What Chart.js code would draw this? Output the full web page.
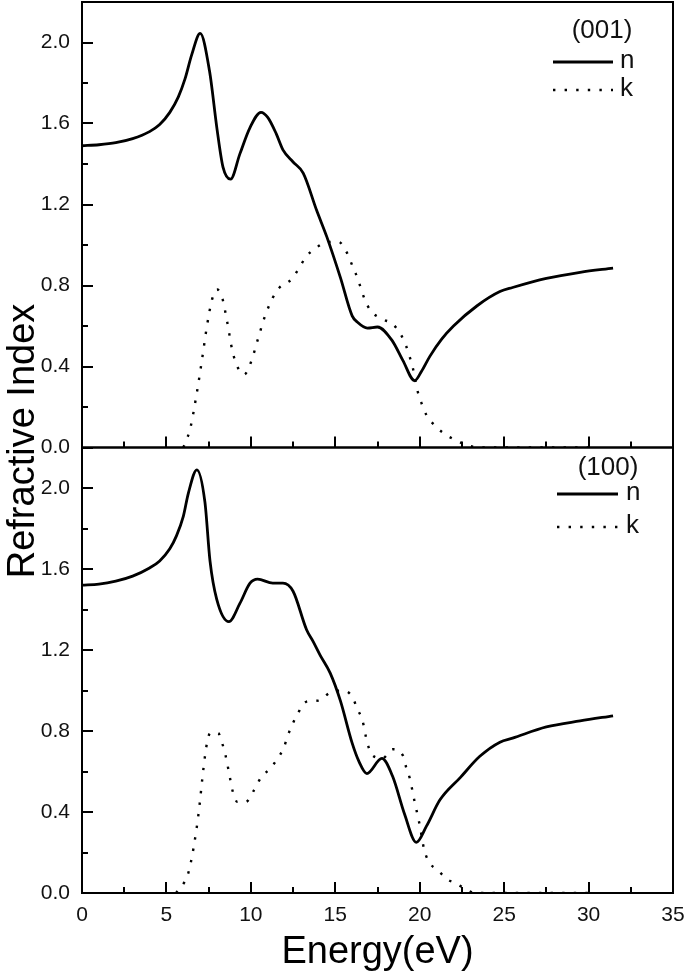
<!DOCTYPE html>
<html>
<head>
<meta charset="utf-8">
<script src="https://cdn.jsdelivr.net/npm/chart.js@4"></script>
<style>
  body { margin: 0; background: #fff; }
  #wrap { position: relative; width: 685px; height: 973px; }
  canvas { position: absolute; left: 0; top: 0; }
</style>
</head>
<body>
<div id="wrap">
  <canvas id="topChart" width="685" height="973"></canvas>
  <canvas id="bottomChart" width="685" height="973"></canvas>
</div>
<script>
// Refractive index n and extinction k vs photon energy, two orientations
const xMajor = [0, 5, 10, 15, 20, 25, 30, 35];
const xMinor = [2.5, 7.5, 12.5, 17.5, 22.5, 27.5, 32.5];
const yMajor = [0, 0.4, 0.8, 1.2, 1.6, 2.0];
const yMinor = [0.2, 0.6, 1.0, 1.4, 1.8];

// (001)
const nEnergy001 = [0, 1, 2, 3, 4, 4.6, 5.2, 5.7, 6.1, 6.5, 7.0, 7.55, 8.0, 8.35, 8.8, 9.35, 9.95, 10.6, 11.0, 11.5, 11.9, 12.5, 13.1, 13.9, 14.5, 15.3, 16.0, 16.3, 16.9, 17.5, 18.35, 19.0, 19.7, 20.1, 20.6, 21.3, 22.0, 23.4, 24.75, 25.5, 27.5, 29.5, 31.45];
const n001 = [1.49, 1.495, 1.505, 1.525, 1.56, 1.595, 1.655, 1.73, 1.82, 1.94, 2.045, 1.86, 1.57, 1.385, 1.325, 1.45, 1.58, 1.655, 1.63, 1.55, 1.47, 1.41, 1.355, 1.17, 1.04, 0.84, 0.65, 0.62, 0.59, 0.595, 0.53, 0.43, 0.33, 0.375, 0.45, 0.535, 0.60, 0.70, 0.77, 0.79, 0.835, 0.865, 0.886];
const kEnergy001 = [6.0, 6.15, 6.4, 6.8, 7.1, 7.4, 7.7, 8.0, 8.3, 8.6, 8.9, 9.2, 9.6, 10.0, 10.4, 10.8, 11.3, 11.7, 12.4, 12.85, 13.25, 13.85, 14.55, 15.2, 15.7, 16.0, 16.3, 16.5, 16.75, 17.1, 17.76, 18.4, 18.9, 19.2, 19.4, 19.6, 19.9, 20.1, 20.4, 21.0, 21.6, 22.1, 22.8, 23.5, 30.5];
const k001 = [0.0, 0.03, 0.09, 0.27, 0.43, 0.60, 0.73, 0.78, 0.74, 0.62, 0.48, 0.40, 0.36, 0.42, 0.53, 0.64, 0.74, 0.79, 0.83, 0.885, 0.94, 0.985, 1.015, 1.015, 0.96, 0.90, 0.84, 0.79, 0.73, 0.675, 0.635, 0.61, 0.555, 0.50, 0.45, 0.39, 0.27, 0.22, 0.16, 0.10, 0.06, 0.037, 0.012, 0.0, 0.0];

// (100)
const nEnergy100 = [0, 1, 2, 3, 4, 4.6, 5.2, 5.6, 6.0, 6.3, 6.8, 7.28, 7.58, 7.98, 8.7, 9.35, 9.95, 10.4, 11.3, 11.9, 12.5, 13.3, 13.7, 14.1, 14.7, 15.3, 16.0, 16.4, 16.87, 17.76, 18.4, 19.1, 19.8, 20.4, 21.2, 22.4, 23.56, 24.75, 25.5, 27.5, 29.5, 31.45];
const n100 = [1.52, 1.525, 1.54, 1.565, 1.605, 1.64, 1.70, 1.765, 1.86, 1.975, 2.09, 1.93, 1.64, 1.45, 1.34, 1.43, 1.53, 1.55, 1.53, 1.53, 1.49, 1.30, 1.24, 1.175, 1.086, 0.95, 0.74, 0.65, 0.59, 0.665, 0.575, 0.39, 0.25, 0.33, 0.46, 0.57, 0.675, 0.745, 0.765, 0.82, 0.85, 0.875];
const kEnergy100 = [5.57, 6.04, 6.3, 6.6, 6.9, 7.2, 7.4, 7.6, 8.06, 8.3, 8.5, 8.76, 8.9, 9.2, 9.7, 10.2, 10.6, 11.07, 11.6, 11.96, 12.2, 12.5, 12.8, 13.3, 14.0, 14.7, 15.4, 16.0, 16.3, 16.6, 16.9, 17.2, 17.8, 18.4, 19.0, 19.2, 19.4, 19.7, 20.0, 20.25, 20.5, 21.1, 21.7, 22.1, 22.7, 23.3, 30.5];
const k100 = [0.0, 0.05, 0.10, 0.22, 0.39, 0.62, 0.74, 0.79, 0.79, 0.74, 0.68, 0.57, 0.51, 0.45, 0.45, 0.51, 0.57, 0.61, 0.665, 0.72, 0.78, 0.84, 0.89, 0.945, 0.95, 0.99, 1.0, 0.97, 0.91, 0.855, 0.74, 0.68, 0.665, 0.71, 0.68, 0.62, 0.57, 0.45, 0.335, 0.22, 0.16, 0.11, 0.064, 0.05, 0.02, 0.0, 0.0];

const FONT = '"Liberation Sans", Arial, sans-serif';
const toPoints = (xs, ys) => xs.map((x, i) => ({ x: x, y: ys[i] }));
const noPad = s => { s.paddingTop = 0; s.paddingBottom = 0; s.paddingLeft = 0; s.paddingRight = 0; };

// frame, inward ticks, legend and titles
const panelDecor = {
  id: 'panelDecor',
  afterDraw(chart, args, opts) {
    const { ctx, chartArea: a, scales: { x, y } } = chart;
    ctx.save();
    ctx.strokeStyle = '#000';
    ctx.lineWidth = 2;
    ctx.strokeRect(a.left, a.top, a.right - a.left, a.bottom - a.top);

    ctx.beginPath();
    const tick = (vals, len, horiz) => vals.forEach(v => {
      if (horiz) {
        const px = Math.round(x.getPixelForValue(v));
        ctx.moveTo(px, a.bottom); ctx.lineTo(px, a.bottom - len);
      } else {
        const py = Math.round(y.getPixelForValue(v));
        ctx.moveTo(a.left, py); ctx.lineTo(a.left + len, py);
      }
    });
    tick(xMajor, 11, true);
    tick(xMinor, 6, true);
    tick(yMajor, 11, false);
    tick(yMinor, 6, false);
    ctx.stroke();

    // legend
    const lg = opts.legend;
    ctx.fillStyle = '#111';
    ctx.font = '26px ' + FONT;
    ctx.textAlign = 'center';
    ctx.textBaseline = 'middle';
    ctx.fillText(lg.title, lg.titleX, lg.titleY);
    ctx.textAlign = 'left';
    chart.data.datasets.forEach((ds, i) => {
      const ly = lg.rows[i];
      ctx.beginPath();
      ctx.lineWidth = ds.borderWidth;
      ctx.setLineDash(ds.borderDash || []);
      ctx.moveTo(lg.lineX0, ly);
      ctx.lineTo(lg.lineX1, ly);
      ctx.stroke();
      ctx.setLineDash([]);
      ctx.fillText(ds.label, lg.textX, ly - 1);
    });

    if (opts.titles) {
      ctx.fillStyle = '#000';
      ctx.font = '38px ' + FONT;
      ctx.textAlign = 'center';
      ctx.textBaseline = 'alphabetic';
      ctx.fillText('Energy(eV)', (a.left + a.right) / 2, 963);
      ctx.translate(34, 441);
      ctx.rotate(-Math.PI / 2);
      ctx.fillText('Refractive Index', 0, 0);
    }
    ctx.restore();
  }
};

function makePanel(id, nE, nV, kE, kV, pad, showX, decor) {
  new Chart(document.getElementById(id), {
    type: 'line',
    data: {
      datasets: [
        { label: 'n', data: toPoints(nE, nV), borderColor: '#000', borderWidth: 2.8,
          pointRadius: 0, cubicInterpolationMode: 'monotone', fill: false },
        { label: 'k', data: toPoints(kE, kV), borderColor: '#000', borderWidth: 2.4,
          borderDash: [2.4, 9.2], pointRadius: 0, cubicInterpolationMode: 'monotone', fill: false }
      ]
    },
    options: {
      responsive: false,
      animation: false,
      devicePixelRatio: 1,
      layout: { padding: pad },
      plugins: { legend: { display: false }, tooltip: { enabled: false }, panelDecor: decor },
      scales: {
        x: {
          type: 'linear', min: 0, max: 35,
          grid: { display: false, drawTicks: false },
          border: { display: false },
          afterBuildTicks: s => { s.ticks = xMajor.map(v => ({ value: v })); },
          afterFit: s => { s.height = showX ? 80 : 0; noPad(s); },
          ticks: { display: showX, color: '#111', padding: 10, font: { family: FONT, size: 21 }, callback: v => String(v) }
        },
        y: {
          type: 'linear', min: 0, max: 2.2,
          grid: { display: false, drawTicks: false },
          border: { display: false },
          afterBuildTicks: s => { s.ticks = yMajor.map(v => ({ value: v })); },
          afterFit: s => { s.width = 82; noPad(s); },
          ticks: { color: '#111', padding: 12, font: { family: FONT, size: 21 }, callback: v => v.toFixed(1) }
        }
      }
    },
    plugins: [panelDecor]
  });
}

makePanel('topChart', nEnergy001, n001, kEnergy001, k001,
  { top: 2, right: 12, bottom: 525.5, left: 0 }, false,
  { legend: { title: '(001)', titleX: 602, titleY: 31, rows: [62, 90], lineX0: 553, lineX1: 613, textX: 620 } });

makePanel('bottomChart', nEnergy100, n100, kEnergy100, k100,
  { top: 447.5, right: 12, bottom: 0, left: 0 }, true,
  { legend: { title: '(100)', titleX: 608, titleY: 468, rows: [494, 527], lineX0: 557, lineX1: 618, textX: 626 }, titles: true });
</script>
</body>
</html>
